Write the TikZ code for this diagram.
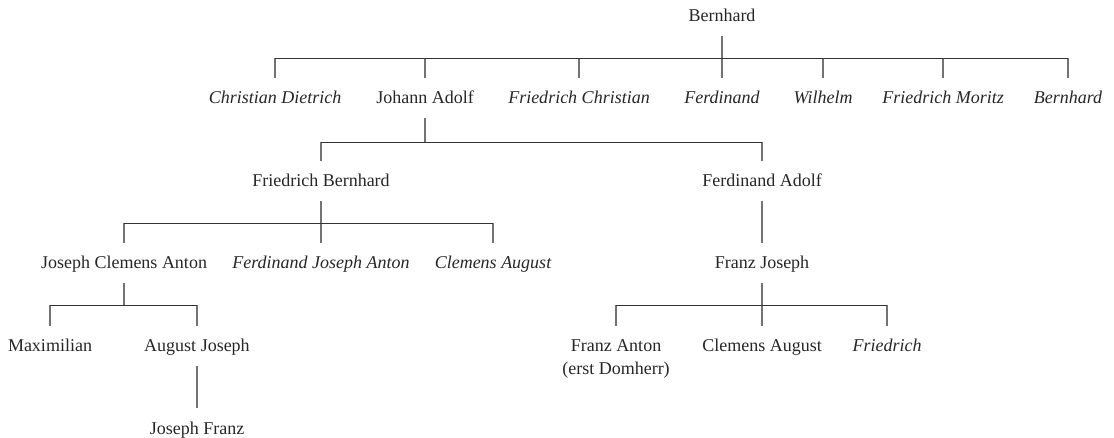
\documentclass[tikz,border=0pt]{standalone}
\usepackage{fontspec}
\setmainfont{Liberation Serif}
\begin{document}
\begin{tikzpicture}[x=1pt, y=-1pt,
  person/.style={inner sep=0pt, text height=14pt, text depth=2pt,
    minimum height=40pt, font=\fontsize{18}{22}\selectfont, text=black!85},
  dead/.style={person, font=\fontsize{18}{22}\selectfont\itshape},
  vline/.style={draw=black!55, line width=1.2pt},
  hline/.style={draw=black!80, line width=0.9pt}]
\useasboundingbox (0,0) rectangle (1114,438);

% generation 1
\node[person] (b)   at (722,16)  {Bernhard};
% generation 2
\node[dead]   (cd)  at (275,98)  {Christian Dietrich};
\node[person] (ja)  at (425,98)  {Johann Adolf};
\node[dead]   (fc)  at (579,98)  {Friedrich Christian};
\node[dead]   (fe)  at (722,98)  {Ferdinand};
\node[dead]   (wi)  at (823,98)  {Wilhelm};
\node[dead]   (fm)  at (943,98)  {Friedrich Moritz};
\node[dead]   (bj)  at (1068,98) {Bernhard};
% generation 3
\node[person] (fb)  at (321,181) {Friedrich Bernhard};
\node[person] (fa)  at (762,181) {Ferdinand Adolf};
% generation 4
\node[person] (jca) at (124,263) {Joseph Clemens Anton};
\node[dead]   (fja) at (321,263) {Ferdinand Joseph Anton};
\node[dead]   (ca)  at (493,263) {Clemens August};
\node[person] (fj)  at (762,263) {Franz Joseph};
% generation 5
\node[person] (ma)  at (50,346)  {Maximilian};
\node[person] (aj)  at (197,346) {August Joseph};
\node[person] (fan) at (616,346) {Franz Anton};
\node[person] (fad) at (616,368) {(erst Domherr)};
\node[person] (ca2) at (762,346) {Clemens August};
\node[dead]   (fr)  at (887,346) {Friedrich};
% generation 6
\node[person] (jf)  at (197,428) {Joseph Franz};

% junctions of the sibling bars
\coordinate (jb)   at (722,58);
\coordinate (jja)  at (425,142);
\coordinate (jfb)  at (321,223);
\coordinate (jjca) at (124,305);
\coordinate (jfj)  at (762,305);

% Bernhard and his sons
\draw[vline] (b.south) -- (jb);
\foreach \c in {cd,ja,fc,fe,wi,fm,bj} \draw[vline] (\c.north) -- (\c.north |- jb);
\draw[hline] (cd.north |- jb) -- (bj.north |- jb);

% Johann Adolf
\draw[vline] (ja.south) -- (jja);
\foreach \c in {fb,fa} \draw[vline] (\c.north) -- (\c.north |- jja);
\draw[hline] (fb.north |- jja) -- (fa.north |- jja);

% Friedrich Bernhard
\draw[vline] (fb.south) -- (jfb);
\foreach \c in {jca,fja,ca} \draw[vline] (\c.north) -- (\c.north |- jfb);
\draw[hline] (jca.north |- jfb) -- (ca.north |- jfb);

% Ferdinand Adolf
\draw[vline] (fa.south) -- (fj.north);

% Joseph Clemens Anton
\draw[vline] (jca.south) -- (jjca);
\foreach \c in {ma,aj} \draw[vline] (\c.north) -- (\c.north |- jjca);
\draw[hline] (ma.north |- jjca) -- (aj.north |- jjca);

% Franz Joseph
\draw[vline] (fj.south) -- (jfj);
\foreach \c in {fan,ca2,fr} \draw[vline] (\c.north) -- (\c.north |- jfj);
\draw[hline] (fan.north |- jfj) -- (fr.north |- jfj);

% August Joseph
\draw[vline] (aj.south) -- (jf.north);
\end{tikzpicture}
\end{document}
